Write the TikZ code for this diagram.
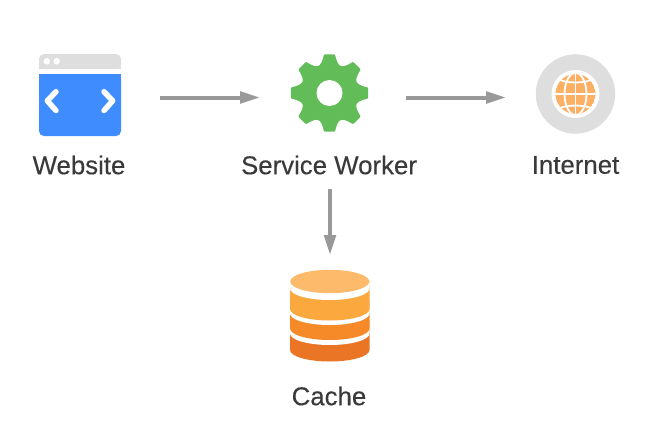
\documentclass[tikz,border=0pt]{standalone}
\usepackage{fontspec}
\setmainfont[FakeBold=0.25]{Liberation Sans}
\usetikzlibrary{arrows.meta}
\definecolor{arrowgray}{HTML}{999999}
\definecolor{labelink}{HTML}{3A3A3A}
\definecolor{chrome}{HTML}{DEDEDE}
\definecolor{webblue}{HTML}{3F8CFF}
\definecolor{gearA}{HTML}{62BD59}
\definecolor{globeO}{HTML}{FDB063}
\definecolor{dbA}{HTML}{FDBA6A}
\definecolor{dbB}{HTML}{FBA93F}
\definecolor{dbC}{HTML}{F68A28}
\definecolor{dbD}{HTML}{EA7625}
\newcommand{\dbband}[3]{% colour, top y, side bottom y
  \fill[#1] (290,#2) -- (369.5,#2) -- (369.5,#3)
    .. controls (369.5,#3+6.4) and (351.5,#3+11.5) .. (329.75,#3+11.5)
    .. controls (308,#3+11.5) and (290,#3+6.4) .. (290,#3) -- cycle;}
\tikzset{
  iconbox/.style={inner sep=0pt,outer sep=0pt,minimum width=#1},
  caption/.style={inner sep=0pt,outer sep=0pt,minimum height=48pt,text=labelink,
    font=\fontsize{25.8}{30}\selectfont},
  flow/.style={draw=arrowgray,line width=4pt,-{Triangle[length=20pt,width=11.5pt,fill=arrowgray]}},
  chev/.style={draw=white,line width=5.5pt,line cap=round,line join=round},
  grid/.style={draw=white,line width=1.8pt}
}
\begin{document}
\begin{tikzpicture}[x=1pt,y=-1pt]
\useasboundingbox[fill=white] (0,0) rectangle (661,426);
% invisible anchors for the icons
\node[iconbox=160pt] (web) at (80,97.5) {};
\node[iconbox=140pt] (sw) at (330,97.5) {};
\node[iconbox=138pt] (inet) at (575,97.5) {};
\node[inner sep=0pt,outer sep=0pt,minimum height=120pt,minimum width=80pt] (cache) at (330,315) {};
% website icon
\fill[chrome,rounded corners=5pt] (39,69) -- (39,54) -- (121,54) -- (121,69) -- cycle;
\fill[chrome] (39,62) rectangle (121,69);
\fill[webblue,rounded corners=5pt] (39,74) -- (39,136) -- (121,136) -- (121,74) -- cycle;
\fill[webblue] (39,74) rectangle (121,84);
\fill[white] (46.7,61.3) circle (3.3) (56.7,61.3) circle (3.3);
\draw[chev] (56,91.7) -- (47.3,100.8) -- (56,110.5);
\draw[chev] (104,91.7) -- (112.7,100.8) -- (104,110.5);
% gear
\begin{scope}[shift={(329.5,93)}]
\fill[gearA,draw=gearA,line width=2pt,line join=round]
  (97:38)
  foreach \a in {90,45,0,-45,-90,-135,180,135} {
    -- ({\a+7}:38) -- ({\a-7}:38)
    .. controls ({\a-18}:25.5) and ({\a-27}:25.5) .. ({\a-38}:38)
  } -- cycle;
\fill[white] (0,0) circle (13);
\end{scope}
% globe
\fill[chrome] (575.5,94) circle (39.7);
\fill[white] (575.5,94) circle (24);
\begin{scope}[shift={(0.5,0)}]
\clip (575,94) circle (20);
\fill[globeO] (575,94) circle (20);
\draw[grid] (575,70) -- (575,118);
\draw[grid] (551,94) -- (599,94);
\draw[grid] (575,94) ellipse (11 and 21);
\draw[grid] (555,78) .. controls (565,84) and (585,84) .. (595,78);
\draw[grid] (555,110) .. controls (565,104) and (585,104) .. (595,110);
\end{scope}
% database
\dbband{dbD}{320}{350}
\dbband{white}{310}{333.5}
\dbband{dbC}{300}{328.5}
\dbband{white}{295}{313.5}
\dbband{dbB}{280}{309}
\dbband{white}{275}{288.5}
\fill[dbA] (329.75,281.5) ellipse (39.5 and 11.7);
% captions
\node[caption] (weblabel) at (79,165) {Website};
\node[caption] (swlabel) at (329,165) {Service Worker};
\node[caption] (inetlabel) at (575.5,165) {Internet};
\node[caption] (cachelabel) at (329,396) {Cache};
% connectors
\draw[flow] (web.east) -- (sw.west);
\draw[flow,shorten <=6pt] (sw.east) -- (inet.west);
\draw[flow] (swlabel.south -| cache.north) -- (cache.north);
\end{tikzpicture}
\end{document}
